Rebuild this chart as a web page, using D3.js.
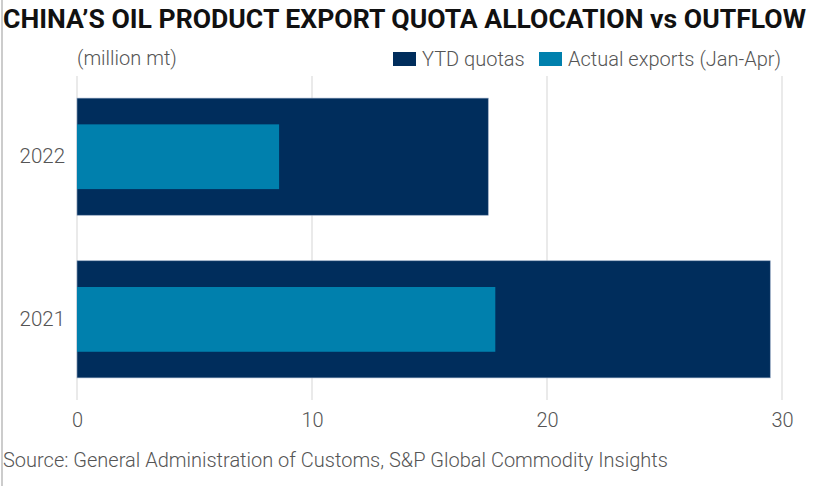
<!DOCTYPE html>
<html>
<head>
<meta charset="utf-8">
<script src="https://cdn.jsdelivr.net/npm/d3@7"></script>
<style>
  body { margin: 0; background: #fff; }
  svg text { font-family: Roboto, "Noto Sans", sans-serif; font-weight: 300; }
</style>
</head>
<body>
<div id="chart"></div>
<script>
// data
const years = ["2022", "2021"];
const ytdQuotas = [17.5, 29.5];
const actualExports = [8.6, 17.8];
const xTicks = [0, 10, 20, 30];

const W = 822, H = 486;
const margin = { top: 76, right: 40, bottom: 86, left: 77 };
const navy = "#002d5c", teal = "#0080ad";
const textGray = "#555";

const svg = d3.select("#chart").append("svg")
  .attr("width", W).attr("height", H);

// left border line
svg.append("line")
  .attr("x1", 2).attr("x2", 2).attr("y1", 0).attr("y2", H)
  .attr("stroke", "#999").attr("stroke-width", 1);

const x = d3.scaleLinear().domain([0, 30]).range([margin.left, 782]);
const y = d3.scaleBand().domain(years)
  .range([margin.top, H - margin.bottom])
  .paddingInner(0.28).paddingOuter(0.136);

// gridlines
svg.append("g").selectAll("line")
  .data(xTicks).join("line")
  .attr("x1", d => x(d)).attr("x2", d => x(d))
  .attr("y1", margin.top).attr("y2", H - margin.bottom)
  .attr("stroke", "#e3e3e3").attr("stroke-width", 1.5);

const rows = years.map((yr, i) => ({ yr, quota: ytdQuotas[i], actual: actualExports[i] }));

svg.append("g").selectAll("rect")
  .data(rows).join("rect")
  .attr("x", x(0))
  .attr("y", d => y(d.yr))
  .attr("width", d => x(d.quota) - x(0))
  .attr("height", y.bandwidth())
  .attr("fill", navy)
  .attr("stroke", "#8ea3bf").attr("stroke-width", 0.6);

svg.append("g").selectAll("rect")
  .data(rows).join("rect")
  .attr("x", x(0))
  .attr("y", d => y(d.yr) + y.bandwidth() * 0.224)
  .attr("width", d => x(d.actual) - x(0))
  .attr("height", y.bandwidth() * 0.553)
  .attr("fill", teal);

// x axis labels
const xAxis = svg.append("g")
  .attr("transform", `translate(0,${H - margin.bottom})`)
  .call(d3.axisBottom(x).tickValues(xTicks).tickSize(0).tickPadding(13));
xAxis.select(".domain").remove();
xAxis.selectAll("text")
  .attr("font-size", 20).attr("fill", textGray)
  .style("font-family", "Roboto").style("font-weight", 300);

// y axis labels
const yAxis = svg.append("g")
  .attr("transform", `translate(${margin.left},0)`)
  .call(d3.axisLeft(y).tickSize(0).tickPadding(12));
yAxis.select(".domain").remove();
yAxis.selectAll("text")
  .attr("font-size", 20.5).attr("fill", textGray)
  .style("font-family", "Roboto").style("font-weight", 300);

// title
svg.append("text")
  .attr("x", 3).attr("y", 28)
  .attr("font-size", 26)
  .style("font-family", "'Liberation Sans Narrow', Roboto")
  .style("font-weight", "bold")
  .attr("fill", "#111")
  .attr("textLength", 803).attr("lengthAdjust", "spacingAndGlyphs")
  .text("CHINA\u2019S OIL PRODUCT EXPORT QUOTA ALLOCATION vs OUTFLOW");

svg.append("text")
  .attr("x", 77).attr("y", 65)
  .attr("font-size", 20).attr("fill", textGray)
  .text("(million mt)");

// legend
const legend = [
  { label: "YTD quotas", color: navy, x: 393 },
  { label: "Actual exports (Jan-Apr)", color: teal, x: 539 }
];
const lg = svg.append("g").selectAll("g").data(legend).join("g")
  .attr("transform", d => `translate(${d.x},52)`);
lg.append("rect").attr("width", 23).attr("height", 14).attr("fill", d => d.color);
lg.append("text").attr("x", 29).attr("y", 14)
  .attr("font-size", 20).attr("fill", textGray)
  .text(d => d.label);

// source
svg.append("text")
  .attr("x", 3).attr("y", 467)
  .attr("font-size", 20).attr("fill", textGray)
  .text("Source: General Administration of Customs, S&P Global Commodity Insights");
</script>
</body>
</html>
